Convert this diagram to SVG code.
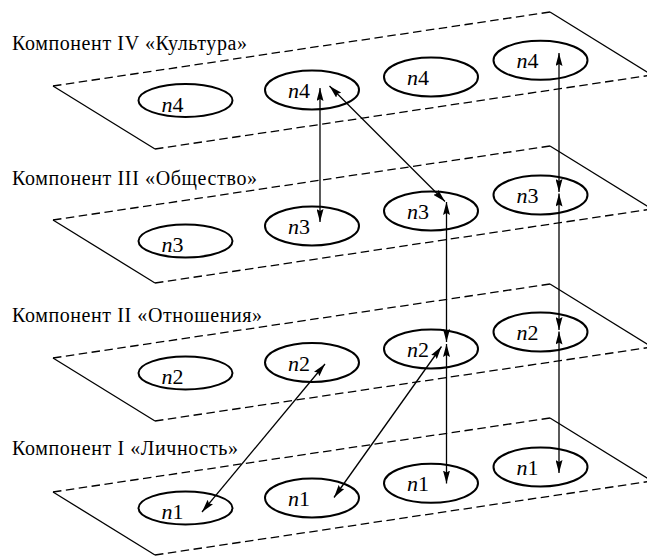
<svg xmlns="http://www.w3.org/2000/svg" width="647" height="557" viewBox="0 0 647 557">
<defs>
<marker id="ah" viewBox="0 0 13 7" refX="13" refY="3.5" markerWidth="13" markerHeight="7" markerUnits="userSpaceOnUse" orient="auto-start-reverse">
<path d="M0,0 L13,3.5 L0,7 L2,3.5 z" fill="#000"/>
</marker>
<style>
.solid{fill:none;stroke:#000;stroke-width:1.3}
.dash{fill:none;stroke:#000;stroke-width:1.3;stroke-dasharray:8.5 4.5}
text{font-family:"Liberation Serif","Times New Roman",serif}
.lbl{font-size:20px;fill:#000}
.nd{fill:none;stroke:#000;stroke-width:2}
.nt{font-size:22px;fill:#000;text-anchor:middle}
.it{font-style:italic}
.con{fill:none;stroke:#000;stroke-width:1.3;marker-start:url(#ah);marker-end:url(#ah)}
</style>
</defs>
<rect width="647" height="557" fill="#fff"/>
<g id="plane4">
<path class="dash" d="M53,86 L550,12"/><path class="solid" d="M550,12 L652,75"/><path class="dash" d="M652,75 L155,149"/><path class="solid" d="M155,149 L53,86"/>
<text class="lbl" x="12" y="50" textLength="235" lengthAdjust="spacing">Компонент IV «Культура»</text>
</g>
<g id="plane3">
<path class="dash" d="M53,220 L550,146"/><path class="solid" d="M550,146 L652,209"/><path class="dash" d="M652,209 L155,283"/><path class="solid" d="M155,283 L53,220"/>
<text class="lbl" x="12" y="185" textLength="245" lengthAdjust="spacing">Компонент III «Общество»</text>
</g>
<g id="plane2">
<path class="dash" d="M53,358 L550,284"/><path class="solid" d="M550,284 L652,347"/><path class="dash" d="M652,347 L155,421"/><path class="solid" d="M155,421 L53,358"/>
<text class="lbl" x="12" y="322" textLength="250" lengthAdjust="spacing">Компонент II «Отношения»</text>
</g>
<g id="plane1">
<path class="dash" d="M53,492 L550,418"/><path class="solid" d="M550,418 L652,481"/><path class="dash" d="M652,481 L155,555"/><path class="solid" d="M155,555 L53,492"/>
<text class="lbl" x="12" y="455" textLength="226" lengthAdjust="spacing">Компонент I «Личность»</text>
</g>

<g id="A4"><ellipse class="nd" cx="185.5" cy="100.5" rx="47" ry="16.5"/><text class="nt" x="172.5" y="111.5"><tspan class="it">n</tspan>4</text></g>
<g id="B4"><ellipse class="nd" cx="312" cy="90" rx="47" ry="19.5"/><text class="nt" x="299" y="98"><tspan class="it">n</tspan>4</text></g>
<g id="C4"><ellipse class="nd" cx="431" cy="77" rx="47" ry="19.5"/><text class="nt" x="418" y="85"><tspan class="it">n</tspan>4</text></g>
<g id="D4"><ellipse class="nd" cx="540.5" cy="60.3" rx="47" ry="19.5"/><text class="nt" x="527.5" y="68.3"><tspan class="it">n</tspan>4</text></g>

<g id="A3"><ellipse class="nd" cx="185.5" cy="241" rx="47" ry="16.5"/><text class="nt" x="172.5" y="252"><tspan class="it">n</tspan>3</text></g>
<g id="B3"><ellipse class="nd" cx="312" cy="226" rx="47" ry="19.5"/><text class="nt" x="299" y="234"><tspan class="it">n</tspan>3</text></g>
<g id="C3"><ellipse class="nd" cx="431" cy="211" rx="47" ry="19.5"/><text class="nt" x="418" y="219"><tspan class="it">n</tspan>3</text></g>
<g id="D3"><ellipse class="nd" cx="540.5" cy="195" rx="47" ry="19.5"/><text class="nt" x="527.5" y="203"><tspan class="it">n</tspan>3</text></g>

<g id="A2"><ellipse class="nd" cx="185.5" cy="373" rx="47" ry="16.5"/><text class="nt" x="172.5" y="384"><tspan class="it">n</tspan>2</text></g>
<g id="B2"><ellipse class="nd" cx="312" cy="362.5" rx="47" ry="19.5"/><text class="nt" x="299" y="370.5"><tspan class="it">n</tspan>2</text></g>
<g id="C2"><ellipse class="nd" cx="431" cy="349" rx="47" ry="19.5"/><text class="nt" x="418" y="357"><tspan class="it">n</tspan>2</text></g>
<g id="D2"><ellipse class="nd" cx="540.5" cy="332" rx="47" ry="19.5"/><text class="nt" x="527.5" y="340"><tspan class="it">n</tspan>2</text></g>

<g id="A1"><ellipse class="nd" cx="185.5" cy="508" rx="47" ry="16.5"/><text class="nt" x="172.5" y="519"><tspan class="it">n</tspan>1</text></g>
<g id="B1"><ellipse class="nd" cx="312" cy="498" rx="47" ry="19.5"/><text class="nt" x="299" y="506"><tspan class="it">n</tspan>1</text></g>
<g id="C1"><ellipse class="nd" cx="431" cy="483.3" rx="47" ry="19.5"/><text class="nt" x="418" y="491.3"><tspan class="it">n</tspan>1</text></g>
<g id="D1"><ellipse class="nd" cx="540.5" cy="467" rx="47" ry="19.5"/><text class="nt" x="527.5" y="475"><tspan class="it">n</tspan>1</text></g>

<g id="connectors">
<line class="con" x1="320" y1="88" x2="320" y2="222"/>
<line class="con" x1="329.5" y1="86" x2="445" y2="201.5"/>
<line class="con" x1="446.5" y1="202" x2="446.5" y2="342"/>
<line class="con" x1="446.5" y1="344" x2="446.5" y2="483.5"/>
<line class="con" x1="559" y1="53" x2="559" y2="192"/>
<line class="con" x1="559" y1="193.5" x2="559" y2="330"/>
<line class="con" x1="559" y1="331.5" x2="559" y2="473"/>
<line class="con" x1="441.5" y1="346.5" x2="334" y2="497.5"/>
<line class="con" x1="325" y1="364" x2="202" y2="512"/>
</g>
</svg>
